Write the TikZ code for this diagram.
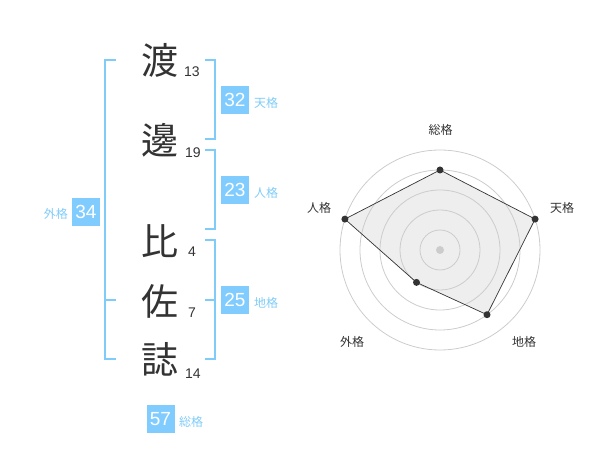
\documentclass[tikz,border=0pt]{standalone}
\usepackage{fontspec}
\setmainfont{Noto Sans CJK JP}
\newfontfamily\numfont{Liberation Sans}
\definecolor{brblue}{HTML}{80CCF8}
\definecolor{boxblue}{HTML}{80CCFF}
\definecolor{txtdark}{HTML}{333333}
\definecolor{ringgray}{HTML}{CCCCCC}
\definecolor{fillgray}{HTML}{EEEEEE}
\tikzset{
  kanji/.style={inner sep=0pt, text=txtdark, font=\fontsize{37}{37}\selectfont},
  strokes/.style={inner sep=0pt, anchor=base west, text=txtdark, font=\numfont\fontsize{14}{14}\selectfont},
  valbox/.style={fill=boxblue, text=white, minimum width=28pt, minimum height=28pt, inner sep=0pt, font=\numfont\fontsize{19}{19}\selectfont},
  kaku/.style={inner sep=0pt, text=brblue, font=\fontsize{12}{12}\selectfont},
  bracket/.style={draw=brblue, line width=2pt},
  ring/.style={draw=ringgray, line width=0.8pt},
  axlabel/.style={inner sep=0pt, text=txtdark, font=\fontsize{12}{12}\selectfont},
  vdot/.style={circle, fill=txtdark, inner sep=0pt, minimum size=7pt},
}
\begin{document}
\begin{tikzpicture}[x=1pt,y=-1pt]
\useasboundingbox (0,0) rectangle (600,470);
% kanji
\node[kanji] (k1) at (160,60) {渡};
\node[kanji] (k2) at (160,140) {邊};
\node[kanji] (k3) at (160,241) {比};
\node[kanji] (k4) at (160,301) {佐};
\node[kanji] (k5) at (160,359) {誌};
% stroke counts
\node[strokes] (s1) at (184,77) {13};
\node[strokes] (s2) at (185,158) {19};
\node[strokes] (s3) at (188,257) {4};
\node[strokes] (s4) at (188,318) {7};
\node[strokes] (s5) at (185,378) {14};
% brackets
\draw[bracket] (116,60) -- (105,60) -- (105,359) -- (116,359);
\draw[bracket] (105,300) -- (116,300);
\draw[bracket] (205,60) -- (214.5,60) -- (214.5,139) -- (205,139);
\draw[bracket] (205,150) -- (214.5,150) -- (214.5,229) -- (205,229);
\draw[bracket] (205,240) -- (214.5,240) -- (214.5,359) -- (205,359);
\draw[bracket] (205,300) -- (214.5,300);
% value boxes
\node[valbox] (v1) at (235,100) {32};
\node[kaku, anchor=west] (l1) at (254,103) {天格};
\node[valbox] (v2) at (235,190) {23};
\node[kaku, anchor=west] (l2) at (254,193) {人格};
\node[valbox] (v3) at (235,300) {25};
\node[kaku, anchor=west] (l3) at (254,303) {地格};
\node[valbox] (v4) at (86,212) {34};
\node[kaku, anchor=east] (l4) at (68,214) {外格};
\node[valbox] (v5) at (160.5,419) {57};
\node[kaku, anchor=west] (l5) at (179,422) {総格};
% radar chart
\coordinate (c) at (440,250);
\path (c) ++(0,-80) coordinate (p1);
\path (c) ++(95.1,-30.9) coordinate (p2);
\path (c) ++(47.0,64.7) coordinate (p3);
\path (c) ++(-23.5,32.4) coordinate (p4);
\path (c) ++(-95.1,-30.9) coordinate (p5);
\fill[fillgray] (p1) -- (p2) -- (p3) -- (p4) -- (p5) -- cycle;
\foreach \r in {20,40,60,80,100} \draw[ring] (c) circle (\r);
\fill[ringgray] (c) circle (4);
\draw[txtdark, line width=0.7pt] (p1) -- (p2) -- (p3) -- (p4) -- (p5) -- cycle;
\foreach \p in {p1,p2,p3,p4,p5} \node[vdot] at (\p) {};
\node[axlabel] (a1) at (440.5,130) {総格};
\node[axlabel] (a2) at (562,208) {天格};
\node[axlabel] (a3) at (524,342) {地格};
\node[axlabel] (a4) at (352,342) {外格};
\node[axlabel] (a5) at (319,208) {人格};
\end{tikzpicture}
\end{document}
